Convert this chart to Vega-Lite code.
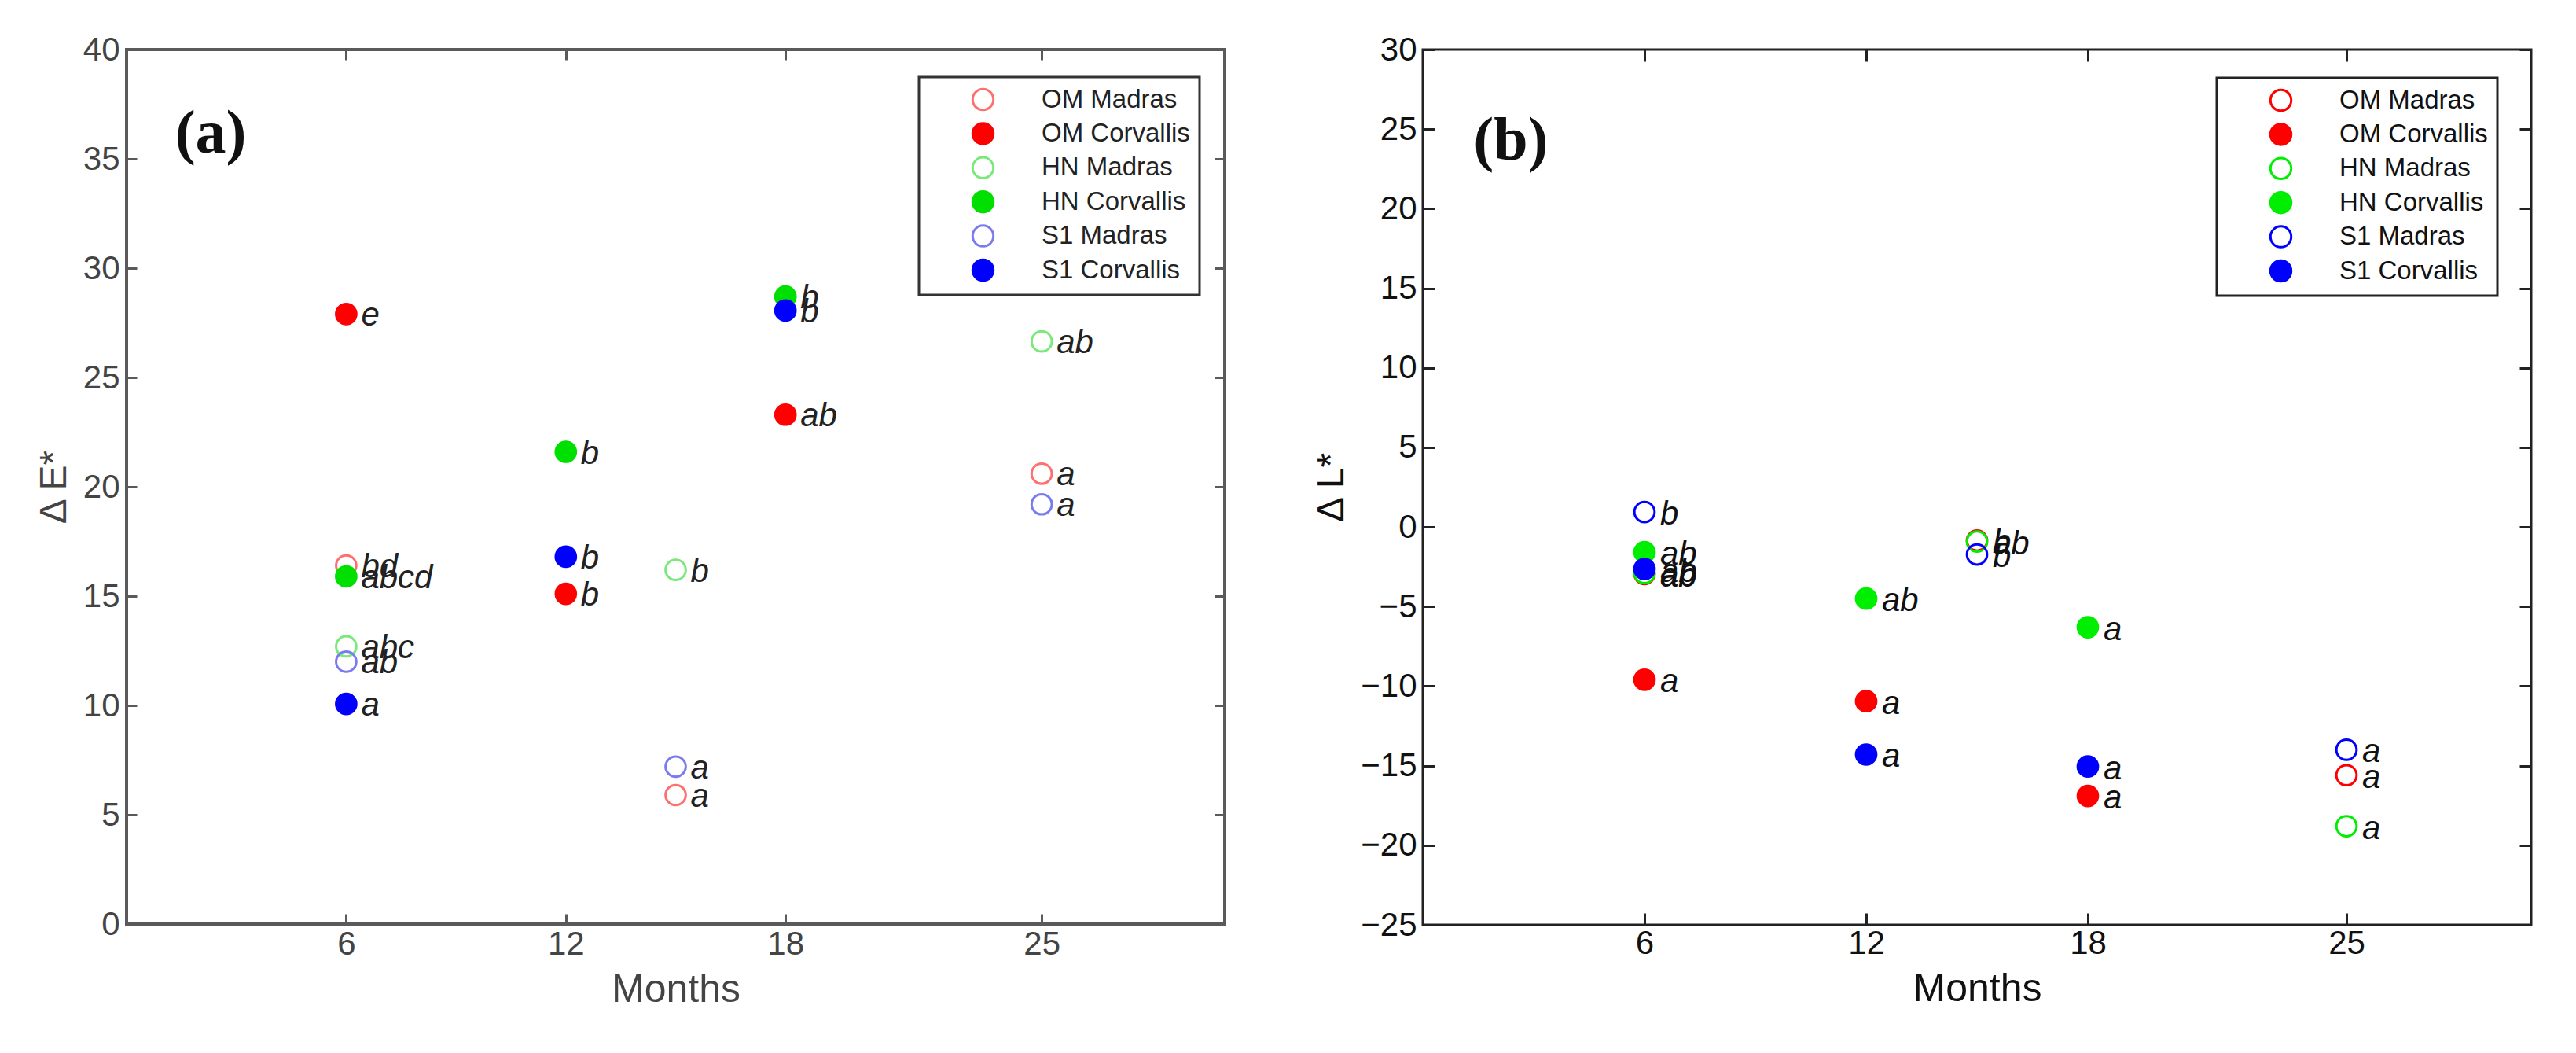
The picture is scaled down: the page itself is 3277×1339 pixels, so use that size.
{
  "$schema": "https://vega.github.io/schema/vega-lite/v6.json",
  "background": "white",
  "padding": {"left": 43, "top": 40, "right": 5, "bottom": 5},
  "config": {
    "font": "Liberation Sans",
    "legend": {"strokeWidth": 3},
    "axis": {"grid": false}
  },
  "datasets": {
    "pa": [
      {"month": 6, "value": 16.4, "series": "OM Madras", "label": "bd"},
      {"month": 15, "value": 5.9, "series": "OM Madras", "label": "a"},
      {"month": 25, "value": 20.6, "series": "OM Madras", "label": "a"},
      {"month": 6, "value": 27.9, "series": "OM Corvallis", "label": "e"},
      {"month": 12, "value": 15.1, "series": "OM Corvallis", "label": "b"},
      {"month": 18, "value": 23.3, "series": "OM Corvallis", "label": "ab"},
      {"month": 6, "value": 12.7, "series": "HN Madras", "label": "abc"},
      {"month": 15, "value": 16.2, "series": "HN Madras", "label": "b"},
      {"month": 25, "value": 26.65, "series": "HN Madras", "label": "ab"},
      {"month": 6, "value": 15.9, "series": "HN Corvallis", "label": "abcd"},
      {"month": 12, "value": 21.6, "series": "HN Corvallis", "label": "b"},
      {"month": 18, "value": 28.7, "series": "HN Corvallis", "label": "b"},
      {"month": 6, "value": 12.0, "series": "S1 Madras", "label": "ab"},
      {"month": 15, "value": 7.2, "series": "S1 Madras", "label": "a"},
      {"month": 25, "value": 19.2, "series": "S1 Madras", "label": "a"},
      {"month": 6, "value": 10.07, "series": "S1 Corvallis", "label": "a"},
      {"month": 12, "value": 16.8, "series": "S1 Corvallis", "label": "b"},
      {"month": 18, "value": 28.06, "series": "S1 Corvallis", "label": "b"}
    ],
    "pb": [
      {"month": 6, "value": -2.95, "series": "OM Madras", "label": "ab"},
      {"month": 15, "value": -0.85, "series": "OM Madras", "label": "b"},
      {"month": 25, "value": -15.6, "series": "OM Madras", "label": "a"},
      {"month": 6, "value": -9.6, "series": "OM Corvallis", "label": "a"},
      {"month": 12, "value": -10.95, "series": "OM Corvallis", "label": "a"},
      {"month": 18, "value": -16.9, "series": "OM Corvallis", "label": "a"},
      {"month": 6, "value": -2.9, "series": "HN Madras", "label": "ab"},
      {"month": 15, "value": -0.92, "series": "HN Madras", "label": "ab"},
      {"month": 25, "value": -18.8, "series": "HN Madras", "label": "a"},
      {"month": 6, "value": -1.58, "series": "HN Corvallis", "label": "ab"},
      {"month": 12, "value": -4.5, "series": "HN Corvallis", "label": "ab"},
      {"month": 18, "value": -6.3, "series": "HN Corvallis", "label": "a"},
      {"month": 6, "value": 0.94, "series": "S1 Madras", "label": "b"},
      {"month": 15, "value": -1.73, "series": "S1 Madras", "label": "b"},
      {"month": 25, "value": -14.0, "series": "S1 Madras", "label": "a"},
      {"month": 6, "value": -2.64, "series": "S1 Corvallis", "label": "ab"},
      {"month": 12, "value": -14.3, "series": "S1 Corvallis", "label": "a"},
      {"month": 18, "value": -15.05, "series": "S1 Corvallis", "label": "a"}
    ],
    "la": [{"month": 2.3, "value": 36.1, "label": "(a)"}],
    "lb": [{"month": 2.38, "value": 24.2, "label": "(b)"}]
  },
  "spacing": 107,
  "resolve": {
    "scale": {"x": "independent", "y": "independent", "fill": "independent", "stroke": "independent"},
    "legend": {"fill": "independent", "stroke": "independent"}
  },
  "hconcat": [
    {
      "width": 1397,
      "height": 1112,
      "view": {"stroke": "#5a5a5a", "strokeWidth": 4},
      "resolve": {"axis": {"x": "independent", "y": "independent"}},
      "layer": [
        {
          "data": {"name": "pa"},
          "mark": {"type": "point", "shape": "circle", "size": 660, "strokeWidth": 3, "opacity": 1},
          "encoding": {
            "x": {"field": "month", "type": "quantitative", "scale": {"domain": [0, 30], "nice": false, "zero": false},
              "axis": {"orient": "bottom", "values": [6, 12, 18, 25], "domain": false, "tickSize": -13, "tickWidth": 3, "tickColor": "#5a5a5a", "labelFontSize": 42, "labelColor": "#444", "labelPadding": 18, "title": "Months", "titleFontSize": 50, "titleFontWeight": "normal", "titleColor": "#444", "titlePadding": 12}},
            "y": {"field": "value", "type": "quantitative", "scale": {"domain": [0, 40], "nice": false},
              "axis": {"orient": "left", "values": [0, 5, 10, 15, 20, 25, 30, 35, 40], "domain": false, "tickSize": -13, "tickWidth": 3, "tickColor": "#5a5a5a", "labelFontSize": 42, "labelColor": "#444", "labelPadding": 22, "title": "Δ E*", "titleFontSize": 48, "titleFontWeight": "normal", "titleColor": "#444", "titlePadding": 12}},
            "stroke": {"field": "series", "type": "nominal",
              "scale": {"domain": ["OM Madras", "OM Corvallis", "HN Madras", "HN Corvallis", "S1 Madras", "S1 Corvallis"], "range": ["#ff6f6f", "#ff0000", "#7be87b", "#00e000", "#7b7bf0", "#0000ff"]},
              "legend": {"orient": "none", "legendX": 1008, "legendY": 35, "title": null, "strokeColor": "#333", "padding": 12, "symbolOffset": 53, "labelOffset": 58, "symbolSize": 700, "symbolStrokeWidth": 3, "symbolType": "circle", "labelFontSize": 33, "labelColor": "#222", "rowPadding": 4.4, "labelLimit": 400}},
            "fill": {"field": "series", "type": "nominal",
              "scale": {"domain": ["OM Madras", "OM Corvallis", "HN Madras", "HN Corvallis", "S1 Madras", "S1 Corvallis"], "range": ["transparent", "#ff0000", "transparent", "#00e000", "transparent", "#0000ff"]},
              "legend": {"orient": "none", "legendX": 1008, "legendY": 35, "title": null, "strokeColor": "#333", "padding": 12, "symbolOffset": 53, "labelOffset": 58, "symbolSize": 700, "symbolStrokeWidth": 3, "symbolType": "circle", "labelFontSize": 33, "labelColor": "#222", "rowPadding": 4.4, "labelLimit": 400}}
          }
        },
        {
          "data": {"name": "pa"},
          "mark": {"type": "text", "align": "left", "baseline": "middle", "dx": 19, "dy": 2, "fontSize": 42, "fontStyle": "italic", "color": "#222"},
          "encoding": {
            "x": {"field": "month", "type": "quantitative", "axis": {"orient": "top", "values": [6, 12, 18, 25], "domain": false, "labels": false, "tickSize": -13, "tickWidth": 3, "tickColor": "#5a5a5a", "title": null}},
            "y": {"field": "value", "type": "quantitative", "axis": {"orient": "right", "values": [0, 5, 10, 15, 20, 25, 30, 35, 40], "domain": false, "labels": false, "tickSize": -13, "tickWidth": 3, "tickColor": "#5a5a5a", "title": null}},
            "text": {"field": "label", "type": "nominal"}
          }
        },
        {
          "data": {"name": "la"},
          "mark": {"type": "text", "align": "center", "baseline": "middle", "font": "Liberation Serif", "fontWeight": "bold", "fontSize": 78, "color": "#111"},
          "encoding": {
            "x": {"field": "month", "type": "quantitative", "axis": null},
            "y": {"field": "value", "type": "quantitative", "axis": null},
            "text": {"field": "label", "type": "nominal"}
          }
        }
      ]
    },
    {
      "width": 1410,
      "height": 1113,
      "view": {"stroke": "#222", "strokeWidth": 3},
      "resolve": {"axis": {"x": "independent", "y": "independent"}},
      "layer": [
        {
          "data": {"name": "pb"},
          "mark": {"type": "point", "shape": "circle", "size": 660, "strokeWidth": 3, "opacity": 1},
          "encoding": {
            "x": {"field": "month", "type": "quantitative", "scale": {"domain": [0, 30], "nice": false, "zero": false},
              "axis": {"orient": "bottom", "values": [6, 12, 18, 25], "domain": false, "tickSize": -15, "tickWidth": 3, "tickColor": "#222", "labelFontSize": 42, "labelColor": "#111", "labelPadding": 18, "title": "Months", "titleFontSize": 50, "titleFontWeight": "normal", "titleColor": "#111", "titlePadding": 12}},
            "y": {"field": "value", "type": "quantitative", "scale": {"domain": [-25, 30], "nice": false, "zero": false},
              "axis": {"orient": "left", "values": [-25, -20, -15, -10, -5, 0, 5, 10, 15, 20, 25, 30], "domain": false, "tickSize": -15, "tickWidth": 3, "tickColor": "#222", "labelFontSize": 42, "labelColor": "#111", "labelPadding": 23, "title": "Δ L*", "titleFontSize": 48, "titleFontWeight": "normal", "titleColor": "#111", "titlePadding": 12}},
            "stroke": {"field": "series", "type": "nominal",
              "scale": {"domain": ["OM Madras", "OM Corvallis", "HN Madras", "HN Corvallis", "S1 Madras", "S1 Corvallis"], "range": ["#ff0000", "#ff0000", "#00ee00", "#00ee00", "#0000ff", "#0000ff"]},
              "legend": {"orient": "none", "legendX": 1010, "legendY": 36, "title": null, "strokeColor": "#222", "padding": 12, "symbolOffset": 53, "labelOffset": 58, "symbolSize": 700, "symbolStrokeWidth": 3, "symbolType": "circle", "labelFontSize": 33, "labelColor": "#111", "rowPadding": 4.4, "labelLimit": 400}},
            "fill": {"field": "series", "type": "nominal",
              "scale": {"domain": ["OM Madras", "OM Corvallis", "HN Madras", "HN Corvallis", "S1 Madras", "S1 Corvallis"], "range": ["transparent", "#ff0000", "transparent", "#00ee00", "transparent", "#0000ff"]},
              "legend": {"orient": "none", "legendX": 1010, "legendY": 36, "title": null, "strokeColor": "#222", "padding": 12, "symbolOffset": 53, "labelOffset": 58, "symbolSize": 700, "symbolStrokeWidth": 3, "symbolType": "circle", "labelFontSize": 33, "labelColor": "#111", "rowPadding": 4.4, "labelLimit": 400}}
          }
        },
        {
          "data": {"name": "pb"},
          "mark": {"type": "text", "align": "left", "baseline": "middle", "dx": 20, "dy": 3, "fontSize": 42, "fontStyle": "italic", "color": "#111"},
          "encoding": {
            "x": {"field": "month", "type": "quantitative", "axis": {"orient": "top", "values": [6, 12, 18, 25], "domain": false, "labels": false, "tickSize": -15, "tickWidth": 3, "tickColor": "#222", "title": null}},
            "y": {"field": "value", "type": "quantitative", "axis": {"orient": "right", "values": [-25, -20, -15, -10, -5, 0, 5, 10, 15, 20, 25, 30], "domain": false, "labels": false, "tickSize": -15, "tickWidth": 3, "tickColor": "#222", "title": null}},
            "text": {"field": "label", "type": "nominal"}
          }
        },
        {
          "data": {"name": "lb"},
          "mark": {"type": "text", "align": "center", "baseline": "middle", "font": "Liberation Serif", "fontWeight": "bold", "fontSize": 78, "color": "#111"},
          "encoding": {
            "x": {"field": "month", "type": "quantitative", "axis": null},
            "y": {"field": "value", "type": "quantitative", "axis": null},
            "text": {"field": "label", "type": "nominal"}
          }
        }
      ]
    }
  ]
}
